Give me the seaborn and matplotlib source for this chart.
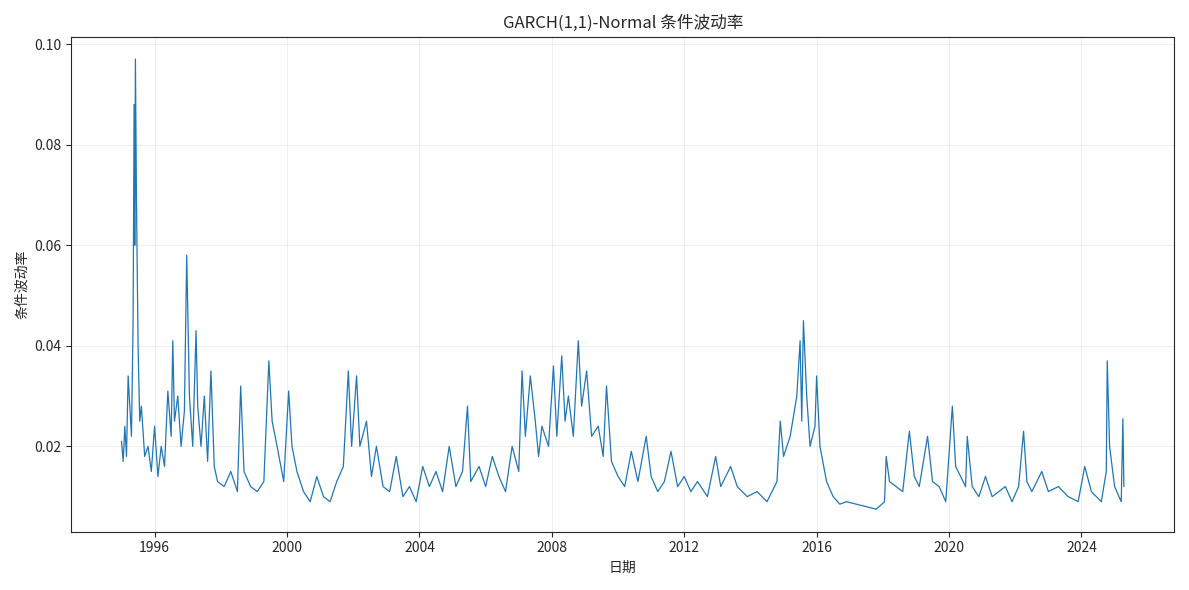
import seaborn as sns
import matplotlib.pyplot as plt
import pandas as pd

# decimal years and conditional volatility
years = [1995.0, 1995.05, 1995.1, 1995.15, 1995.2, 1995.25, 1995.3, 1995.35, 1995.38, 1995.4,
         1995.42, 1995.45, 1995.5, 1995.55, 1995.6, 1995.7, 1995.8, 1995.9, 1996.0, 1996.1,
         1996.2, 1996.3, 1996.4, 1996.5, 1996.55, 1996.6, 1996.7, 1996.8, 1996.9, 1996.97,
         1997.05, 1997.15, 1997.25, 1997.3, 1997.4, 1997.5, 1997.6, 1997.7, 1997.8, 1997.9,
         1998.1, 1998.3, 1998.5, 1998.6, 1998.7, 1998.9, 1999.1, 1999.3, 1999.45, 1999.55,
         1999.7, 1999.9, 2000.05, 2000.15, 2000.3, 2000.5, 2000.7, 2000.9, 2001.1, 2001.3,
         2001.5, 2001.7, 2001.85, 2001.95, 2002.1, 2002.2, 2002.4, 2002.55, 2002.7, 2002.9,
         2003.1, 2003.3, 2003.5, 2003.7, 2003.9, 2004.1, 2004.3, 2004.5, 2004.7, 2004.9,
         2005.1, 2005.3, 2005.45, 2005.55, 2005.8, 2006.0, 2006.2, 2006.4, 2006.6, 2006.8,
         2007.0, 2007.1, 2007.2, 2007.35, 2007.5, 2007.6, 2007.7, 2007.9, 2008.05, 2008.15,
         2008.3, 2008.4, 2008.5, 2008.65, 2008.8, 2008.9, 2009.05, 2009.2, 2009.4, 2009.55,
         2009.65, 2009.8, 2010.0, 2010.2, 2010.4, 2010.6, 2010.85, 2011.0, 2011.2, 2011.4,
         2011.6, 2011.8, 2012.0, 2012.2, 2012.4, 2012.7, 2012.95, 2013.1, 2013.4, 2013.6,
         2013.9, 2014.2, 2014.5, 2014.8, 2014.9, 2015.0, 2015.2, 2015.4, 2015.5, 2015.55,
         2015.6, 2015.7, 2015.8, 2015.95, 2016.0, 2016.1, 2016.3, 2016.5, 2016.7, 2016.9,
         2017.2, 2017.5, 2017.8, 2018.05, 2018.1, 2018.2, 2018.4, 2018.6, 2018.8, 2018.95,
         2019.1, 2019.35, 2019.5, 2019.7, 2019.9, 2020.1, 2020.2, 2020.35, 2020.5, 2020.55,
         2020.7, 2020.9, 2021.1, 2021.3, 2021.5, 2021.7, 2021.9, 2022.1, 2022.25, 2022.35,
         2022.5, 2022.8, 2023.0, 2023.3, 2023.6, 2023.9, 2024.1, 2024.3, 2024.6, 2024.75,
         2024.78, 2024.85, 2025.0, 2025.2, 2025.25, 2025.28]
vol = [0.021, 0.017, 0.024, 0.018, 0.034, 0.028, 0.022, 0.045, 0.088, 0.06,
       0.097, 0.07, 0.04, 0.025, 0.028, 0.018, 0.02, 0.015, 0.024, 0.014,
       0.02, 0.016, 0.031, 0.022, 0.041, 0.025, 0.03, 0.02, 0.027, 0.058,
       0.03, 0.02, 0.043, 0.028, 0.02, 0.03, 0.017, 0.035, 0.016, 0.013,
       0.012, 0.015, 0.011, 0.032, 0.015, 0.012, 0.011, 0.013, 0.037, 0.025,
       0.02, 0.013, 0.031, 0.02, 0.015, 0.011, 0.009, 0.014, 0.01, 0.009,
       0.013, 0.016, 0.035, 0.02, 0.034, 0.02, 0.025, 0.014, 0.02, 0.012,
       0.011, 0.018, 0.01, 0.012, 0.009, 0.016, 0.012, 0.015, 0.011, 0.02,
       0.012, 0.015, 0.028, 0.013, 0.016, 0.012, 0.018, 0.014, 0.011, 0.02,
       0.015, 0.035, 0.022, 0.034, 0.025, 0.018, 0.024, 0.02, 0.036, 0.022,
       0.038, 0.025, 0.03, 0.022, 0.041, 0.028, 0.035, 0.022, 0.024, 0.018,
       0.032, 0.017, 0.014, 0.012, 0.019, 0.013, 0.022, 0.014, 0.011, 0.013,
       0.019, 0.012, 0.014, 0.011, 0.013, 0.01, 0.018, 0.012, 0.016, 0.012,
       0.01, 0.011, 0.009, 0.013, 0.025, 0.018, 0.022, 0.03, 0.041, 0.025,
       0.045, 0.03, 0.02, 0.024, 0.034, 0.02, 0.013, 0.01, 0.0085, 0.009,
       0.0085, 0.008, 0.0075, 0.009, 0.018, 0.013, 0.012, 0.011, 0.023, 0.014,
       0.012, 0.022, 0.013, 0.012, 0.009, 0.028, 0.016, 0.014, 0.012, 0.022,
       0.012, 0.01, 0.014, 0.01, 0.011, 0.012, 0.009, 0.012, 0.023, 0.013,
       0.011, 0.015, 0.011, 0.012, 0.01, 0.009, 0.016, 0.011, 0.009, 0.015,
       0.037, 0.02, 0.012, 0.009, 0.0255, 0.012]


def to_date(y):
    yr = int(y)
    start = pd.Timestamp(year=yr, month=1, day=1)
    return start + pd.Timedelta(days=(y - yr) * 365.25)


df = pd.DataFrame({"date": [to_date(y) for y in years], "vol": vol})

sns.set_style("ticks")
plt.rcParams["font.family"] = ["Noto Sans CJK SC", "DejaVu Sans"]
plt.rcParams["axes.unicode_minus"] = False

fig, ax = plt.subplots(figsize=(11.89, 5.9), dpi=100)
sns.lineplot(data=df, x="date", y="vol", ax=ax, color="#1f77b4", linewidth=0.9)
ax.set_title("GARCH(1,1)-Normal 条件波动率")
ax.set_xlabel("日期")
ax.set_ylabel("条件波动率")
ax.grid(True, alpha=0.3)
fig.tight_layout()
plt.savefig("out.png")
